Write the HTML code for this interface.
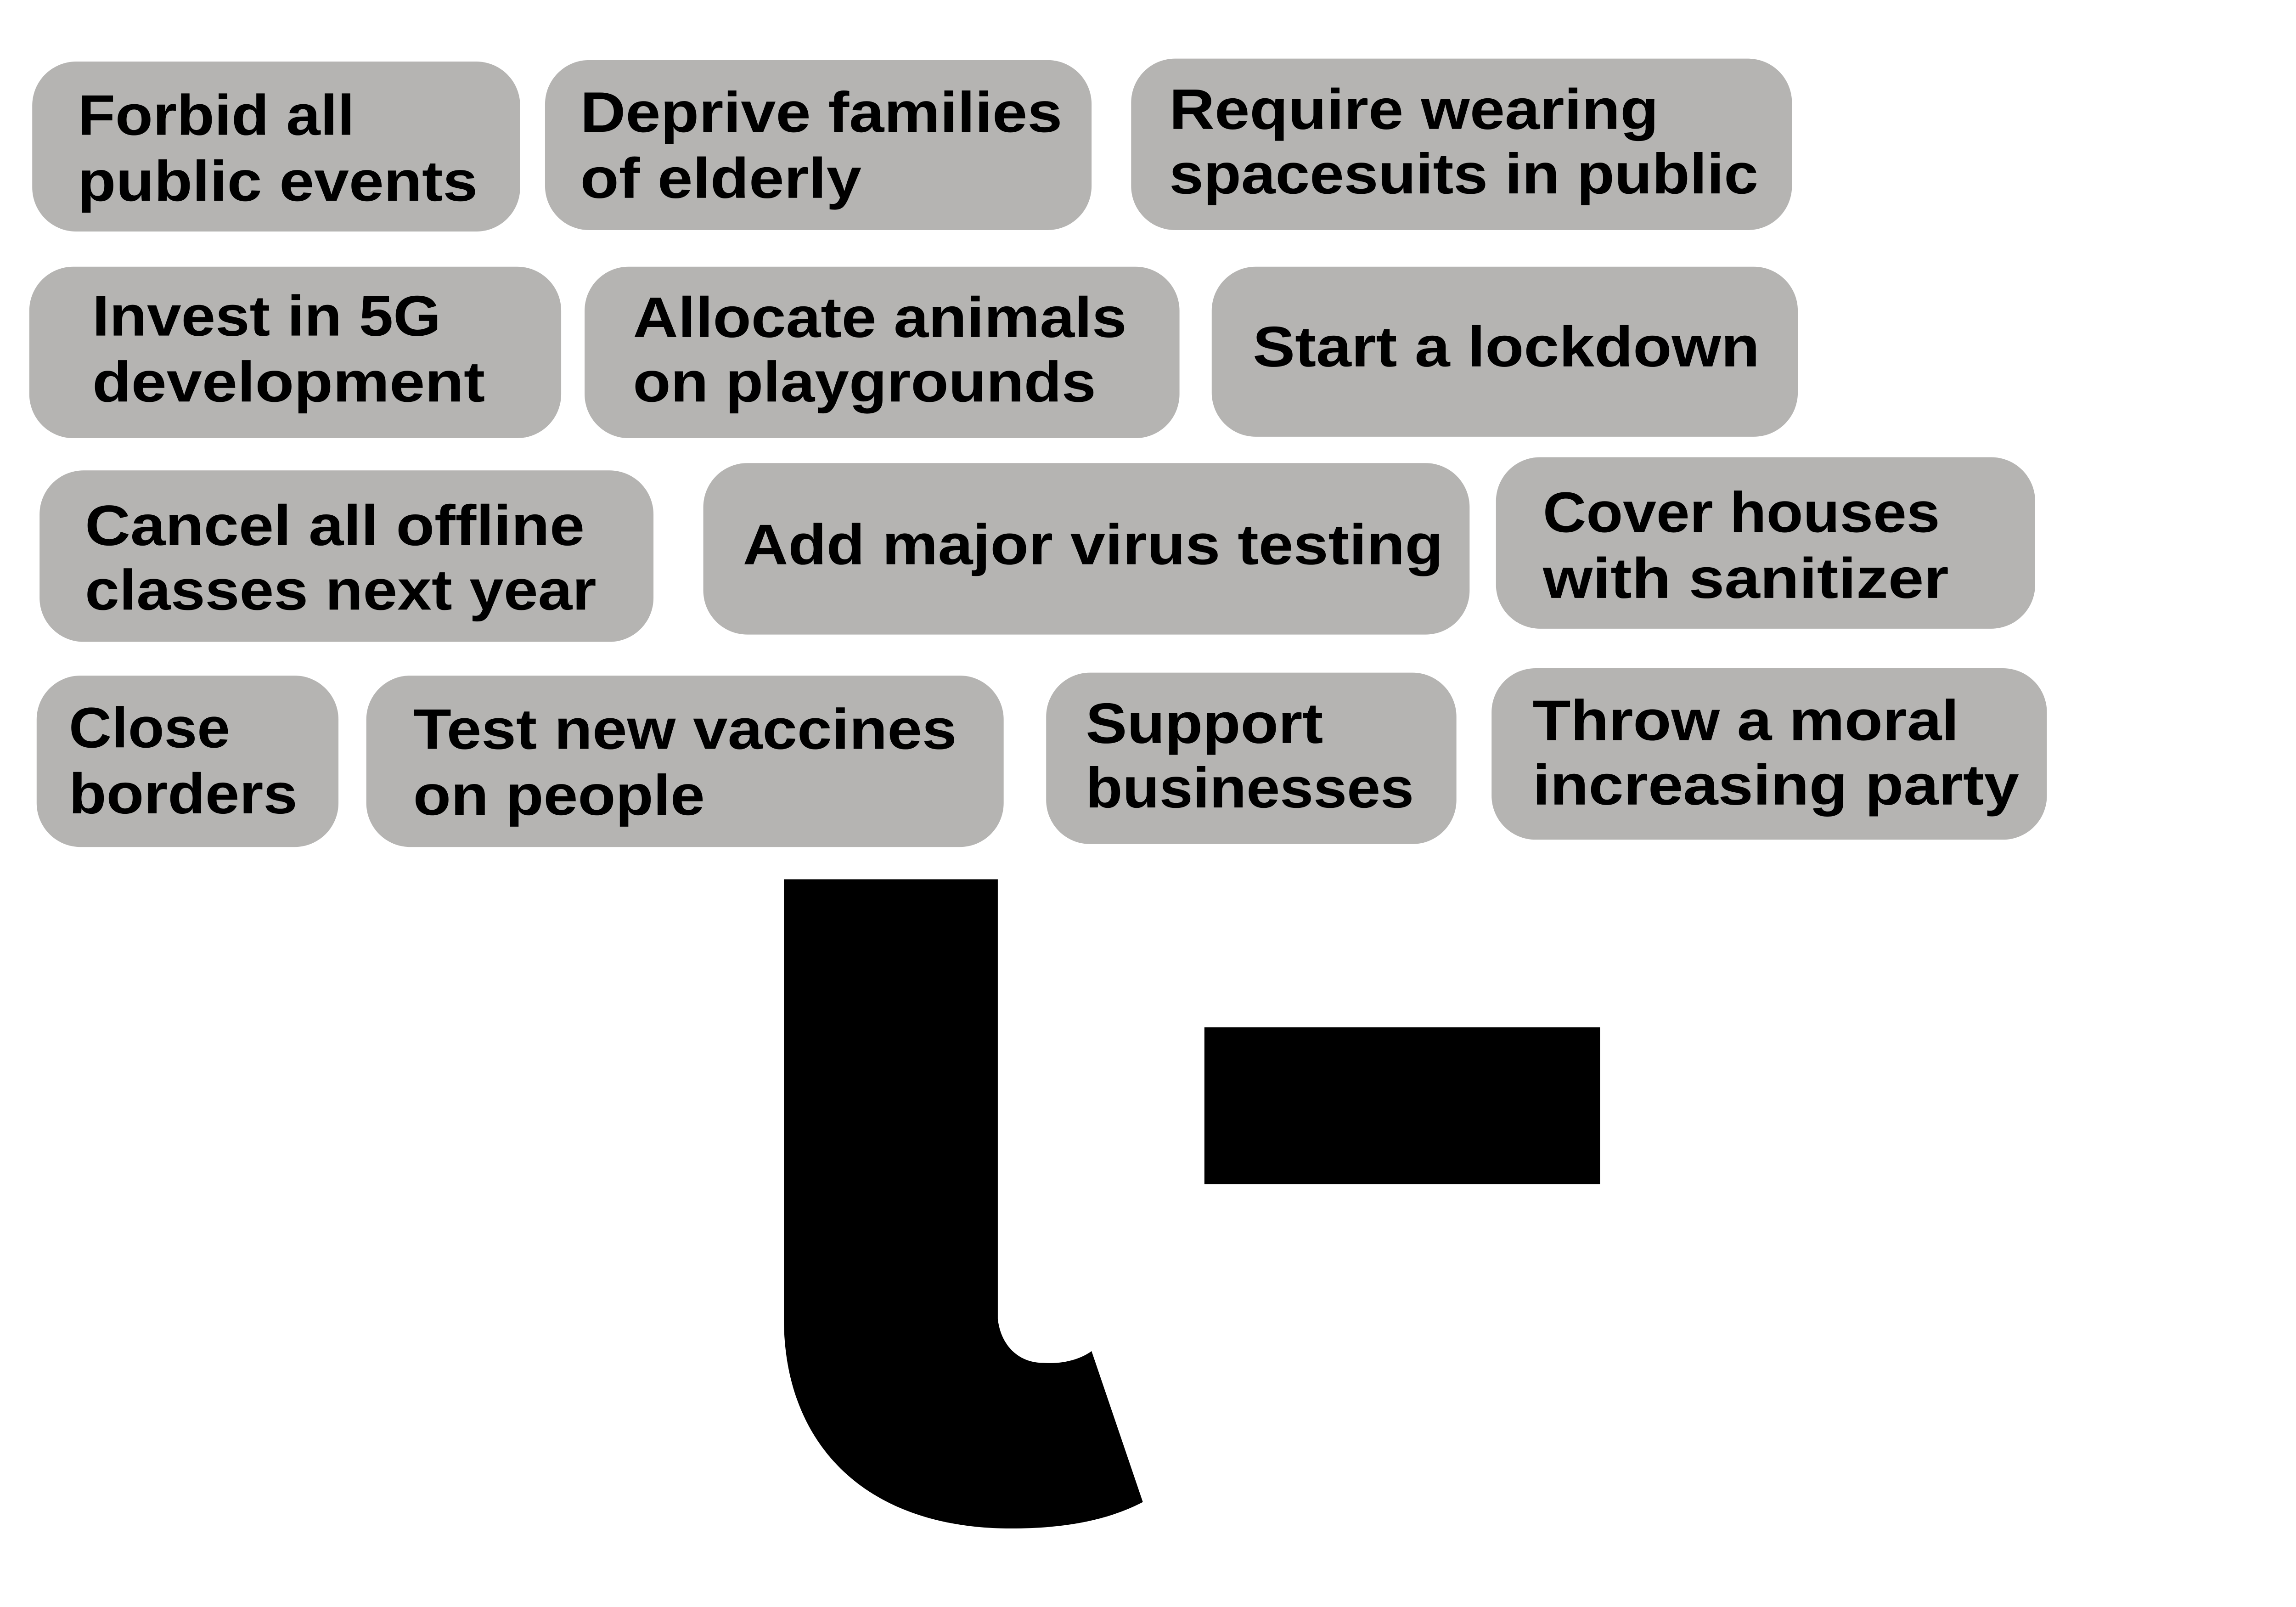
<!DOCTYPE html>
<html><head><meta charset="utf-8">
<style>
html,body{margin:0;padding:0;background:#fff;}
svg{display:block;}
text{font-family:"Liberation Sans",Arial,sans-serif;font-weight:bold;font-size:39px;fill:#000;}
</style></head>
<body>
<svg width="5150" height="3499" viewBox="0 0 1614 1096.6" preserveAspectRatio="xMinYMin meet" xmlns="http://www.w3.org/2000/svg">
<rect width="1614" height="1096.6" fill="#fff"/>
<g id="cards"></g>
<path d="M535 600 L681 600 L681 900 C683 918 695 930 712 930 C727 931 738 927 745 922 L780 1025 C755 1038 725 1043 690 1043 C590 1043 535 985 535 900 Z" fill="#000"/>
<rect x="822" y="701" width="270" height="107" fill="#000"/>
<script>
const boxes=[
[22,42,355,158,[["Forbid all",53,92,242],["public events",53,137,326]],"card-forbid-public-events"],
[372,41,745,157,[["Deprive families",396,90,725],["of elderly",396,135,588]],"card-deprive-families"],
[772,40,1223,157,[["Require wearing",798,88,1132],["spacesuits in public",798,132,1200]],"card-require-spacesuits"],
[20,182,383,299,[["Invest in 5G",63,229,301],["development",63,274,331]],"card-invest-5g"],
[399,182,805,299,[["Allocate animals",432,230,769],["on playgrounds",432,274,748]],"card-allocate-animals"],
[827,182,1227,298,[["Start a lockdown",855,250,1201]],"card-start-lockdown"],
[27,321,446,438,[["Cancel all offline",58,372,399],["classes next year",58,416,407]],"card-cancel-classes"],
[480,316,1003,433,[["Add major virus testing",507,385,985]],"card-add-virus-testing"],
[1021,312,1389,429,[["Cover houses",1053,363,1324],["with sanitizer",1053,408,1330]],"card-cover-houses"],
[25,461,231,578,[["Close",47,510,157],["borders",47,555,203]],"card-close-borders"],
[250,461,685,578,[["Test new vaccines",282,511,653],["on people",282,556,481]],"card-test-vaccines"],
[714,459,994,576,[["Support",741,507,903],["businesses",741,551,965]],"card-support-businesses"],
[1018,456,1397,573,[["Throw a moral",1046,505,1337],["increasing party",1046,549,1378]],"card-throw-party"]
];
const NS="http://www.w3.org/2000/svg";
const g=document.getElementById('cards');
boxes.forEach(b=>{
  const grp=document.createElementNS(NS,'g');
  
  
  const r=document.createElementNS(NS,'rect');
  r.setAttribute('x',b[0]);r.setAttribute('y',b[1]);
  r.setAttribute('width',b[2]-b[0]);r.setAttribute('height',b[3]-b[1]);
  r.setAttribute('rx',30);r.setAttribute('fill','#b5b4b2');
  
  
  grp.appendChild(r);
  b[4].forEach(l=>{
    const t=document.createElementNS(NS,'text');
    t.setAttribute('x',l[1]);t.setAttribute('y',l[2]);
    t.setAttribute('textLength',l[3]-l[1]);
    t.setAttribute('lengthAdjust','spacingAndGlyphs');
    
    
    t.textContent=l[0];
    grp.appendChild(t);
  });
  g.appendChild(grp);
});
</script>
</svg>
</body></html>
